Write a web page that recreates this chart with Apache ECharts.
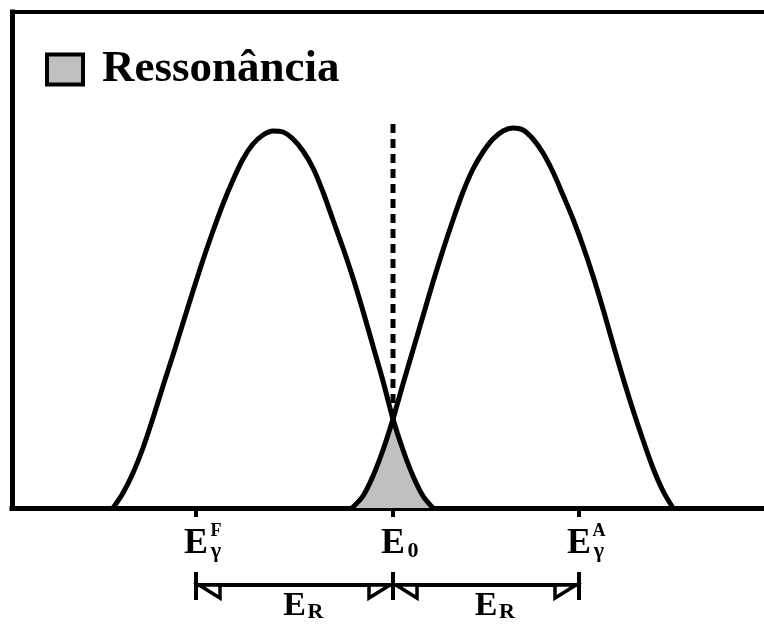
<!DOCTYPE html>
<html>
<head>
<meta charset="utf-8">
<script src="https://cdn.jsdelivr.net/npm/echarts@6/dist/echarts.min.js"></script>
<style>
  html, body { margin: 0; padding: 0; background: #fff; }
  #chart { width: 764px; height: 626px; }
</style>
</head>
<body>
<div id="chart"></div>
<script>
const SERIF = '"Liberation Serif", "Times New Roman", serif';

// Emission line (shifted down by the recoil energy)
const emissionE = [-280, -270, -260, -250, -240, -230, -220, -210, -200, -190, -180, -170, -160, -150, -140, -130, -120, -110, -100, -90, -80, -70, -60, -50, -40, -30, -20, -10, 0, 10, 20, 30, 40];
const emissionI = [0, 15, 35, 60, 90, 122, 153, 185, 217, 248, 277, 304, 328, 349, 364, 373, 377, 376, 369, 357, 340, 316, 288, 260, 230, 197, 162, 127, 89, 58, 32, 12, 0];

// Absorption line (shifted up by the recoil energy)
const absorptionE = [-41, -30, -20, -10, 0, 10, 20, 30, 40, 50, 60, 70, 80, 90, 100, 110, 120, 130, 140, 150, 160, 170, 180, 190, 200, 210, 220, 230, 240, 250, 260, 270, 280];
const absorptionI = [0, 12, 32, 58, 89, 124, 158, 192, 226, 258, 288, 316, 339, 356, 369, 377, 380, 378, 369, 355, 336, 313, 289, 262, 232, 199, 164, 130, 98, 68, 40, 17, 0];

// Overlap of the two lines: the resonance region
const overlapE = [-41, -30, -20, -10, 0, 10, 20, 30, 40];
const overlapI = [0, 12, 32, 58, 89, 58, 32, 12, 0];

// Vertical marker at E0
const markerE = [0, 0];
const markerI = [384, 89];

// Energy axis ticks and labels
const tickValues = [-197, 0, 186];
const tickMain = ['E', 'E', 'E'];
const tickSub = ['γ', '0', 'γ'];
const supValues = [-197, 186];
const supText = ['F', 'A'];

// Recoil energy spans
const spanFrom = [-197, 0];
const spanTo = [0, 186];
const spanMain = ['E', 'E'];
const spanSub = ['R', 'R'];

const xMin = -381, xMax = 371;

const pairs = (xs, ys) => xs.map((x, i) => [x, ys[i]]);

const chart = echarts.init(document.getElementById('chart'), null, { renderer: 'canvas' });

const blackLine = { color: '#000', width: 5, cap: 'square' };

chart.setOption({
  animation: false,
  backgroundColor: '#fff',
  grid: { left: 12, right: 0, top: 12, bottom: 118 },
  legend: {
    data: ['Ressonância'],
    left: 45,
    top: 47,
    padding: 0,
    icon: 'rect',
    itemWidth: 36,
    itemHeight: 30,
    selectedMode: false,
    itemStyle: { color: '#c0c0c0', borderColor: '#000', borderWidth: 4 },
    textStyle: {
      fontFamily: SERIF, fontWeight: 'bold', fontSize: 45, color: '#000',
      padding: [0, 0, 0, 14]
    }
  },
  xAxis: [
    {
      type: 'value', min: xMin, max: xMax, position: 'bottom',
      axisLine: { show: true, onZero: false, lineStyle: blackLine },
      axisTick: { show: true, customValues: tickValues, length: 9, lineStyle: { color: '#000', width: 4 } },
      splitLine: { show: false },
      axisLabel: {
        show: true,
        customValues: tickValues,
        margin: 18,
        formatter: v => {
          const i = tickValues.indexOf(v);
          return '{p| }{e|' + tickMain[i] + '}{b|' + tickSub[i] + '}';
        },
        rich: {
          p: { width: 14, fontSize: 10, align: 'center' },
          e: { width: 26, fontSize: 36, lineHeight: 36, fontFamily: SERIF, fontWeight: 'bold', color: '#000', align: 'center' },
          b: { width: 14, fontSize: 22, lineHeight: 22, fontFamily: SERIF, fontWeight: 'bold', color: '#000', align: 'center', verticalAlign: 'bottom' }
        }
      }
    },
    {
      type: 'value', min: xMin, max: xMax, position: 'bottom',
      axisLine: { show: false },
      axisTick: { show: true, inside: true, customValues: [0], length: 13, lineStyle: { color: '#000', width: 4 } },
      splitLine: { show: false },
      axisLabel: {
        show: true,
        customValues: supValues,
        margin: 14,
        formatter: v => '{p| }{e| }{s|' + supText[supValues.indexOf(v)] + '}',
        rich: {
          p: { width: 14, fontSize: 10, align: 'center' },
          e: { width: 26, fontSize: 10, align: 'center' },
          s: { width: 14, fontSize: 18, lineHeight: 18, fontFamily: SERIF, fontWeight: 'bold', color: '#000', align: 'center' }
        }
      }
    },
    {
      type: 'value', min: xMin, max: xMax, position: 'top',
      axisLine: { show: true, onZero: false, lineStyle: { color: '#000', width: 4, cap: 'square' } },
      axisTick: { show: false },
      axisLabel: { show: false },
      splitLine: { show: false }
    }
  ],
  yAxis: {
    type: 'value', min: 0, max: 496,
    axisLine: { show: true, onZero: false, lineStyle: blackLine },
    axisTick: { show: false },
    axisLabel: { show: false },
    splitLine: { show: false }
  },
  series: [
    {
      name: 'Ressonância',
      type: 'line',
      data: pairs(overlapE, overlapI),
      smooth: 0.3,
      symbol: 'none',
      lineStyle: { width: 0 },
      itemStyle: { color: '#c0c0c0' },
      areaStyle: { color: '#c0c0c0', opacity: 1 },
      z: 1,
      silent: true
    },
    {
      name: 'Emissão',
      type: 'line',
      data: pairs(emissionE, emissionI),
      smooth: 0.3,
      symbol: 'none',
      lineStyle: { color: '#000', width: 5 },
      z: 3,
      silent: true
    },
    {
      name: 'Absorção',
      type: 'line',
      data: pairs(absorptionE, absorptionI),
      smooth: 0.3,
      symbol: 'none',
      lineStyle: { color: '#000', width: 5 },
      z: 3,
      silent: true
    },
    {
      name: 'E0',
      type: 'line',
      data: pairs(markerE, markerI),
      symbol: 'none',
      lineStyle: { color: '#000', width: 5, type: [9, 6] },
      z: 2,
      silent: true
    },
    {
      name: 'ER',
      type: 'custom',
      silent: true,
      clip: false,
      z: 5,
      data: spanFrom.map((f, i) => [f, spanTo[i]]),
      renderItem: (params, api) => {
        const i = params.dataIndex;
        const a = api.coord([api.value(0), 0]);
        const b = api.coord([api.value(1), 0]);
        const base = a[1];
        const yL = base + 77;
        const top = base + 64, bot = base + 92;
        const stroke = { stroke: '#000', lineWidth: 4 };
        const mid = (a[0] + b[0]) / 2;
        return {
          type: 'group',
          children: [
            { type: 'line', shape: { x1: a[0], y1: top, x2: a[0], y2: bot }, style: stroke },
            { type: 'line', shape: { x1: b[0], y1: top, x2: b[0], y2: bot }, style: stroke },
            { type: 'line', shape: { x1: a[0], y1: yL, x2: b[0], y2: yL }, style: stroke },
            { type: 'polygon', shape: { points: [[a[0] + 3, yL], [a[0] + 24, yL], [a[0] + 24, yL + 13]] },
              style: { fill: '#fff', stroke: '#000', lineWidth: 3.5, lineJoin: 'miter' } },
            { type: 'polygon', shape: { points: [[b[0] - 3, yL], [b[0] - 24, yL], [b[0] - 24, yL + 13]] },
              style: { fill: '#fff', stroke: '#000', lineWidth: 3.5, lineJoin: 'miter' } },
            {
              type: 'text',
              style: {
                x: mid - 13, y: base + 98.5,
                text: '{e|' + spanMain[i] + '}{s|' + spanSub[i] + '}',
                align: 'left', verticalAlign: 'middle',
                rich: {
                  e: { width: 26, fontSize: 34, lineHeight: 34, fontFamily: SERIF, fontWeight: 'bold', fill: '#000', align: 'center' },
                  s: { fontSize: 22, lineHeight: 12, fontFamily: SERIF, fontWeight: 'bold', fill: '#000', verticalAlign: 'bottom' }
                }
              }
            }
          ]
        };
      }
    }
  ]
});
</script>
</body>
</html>
